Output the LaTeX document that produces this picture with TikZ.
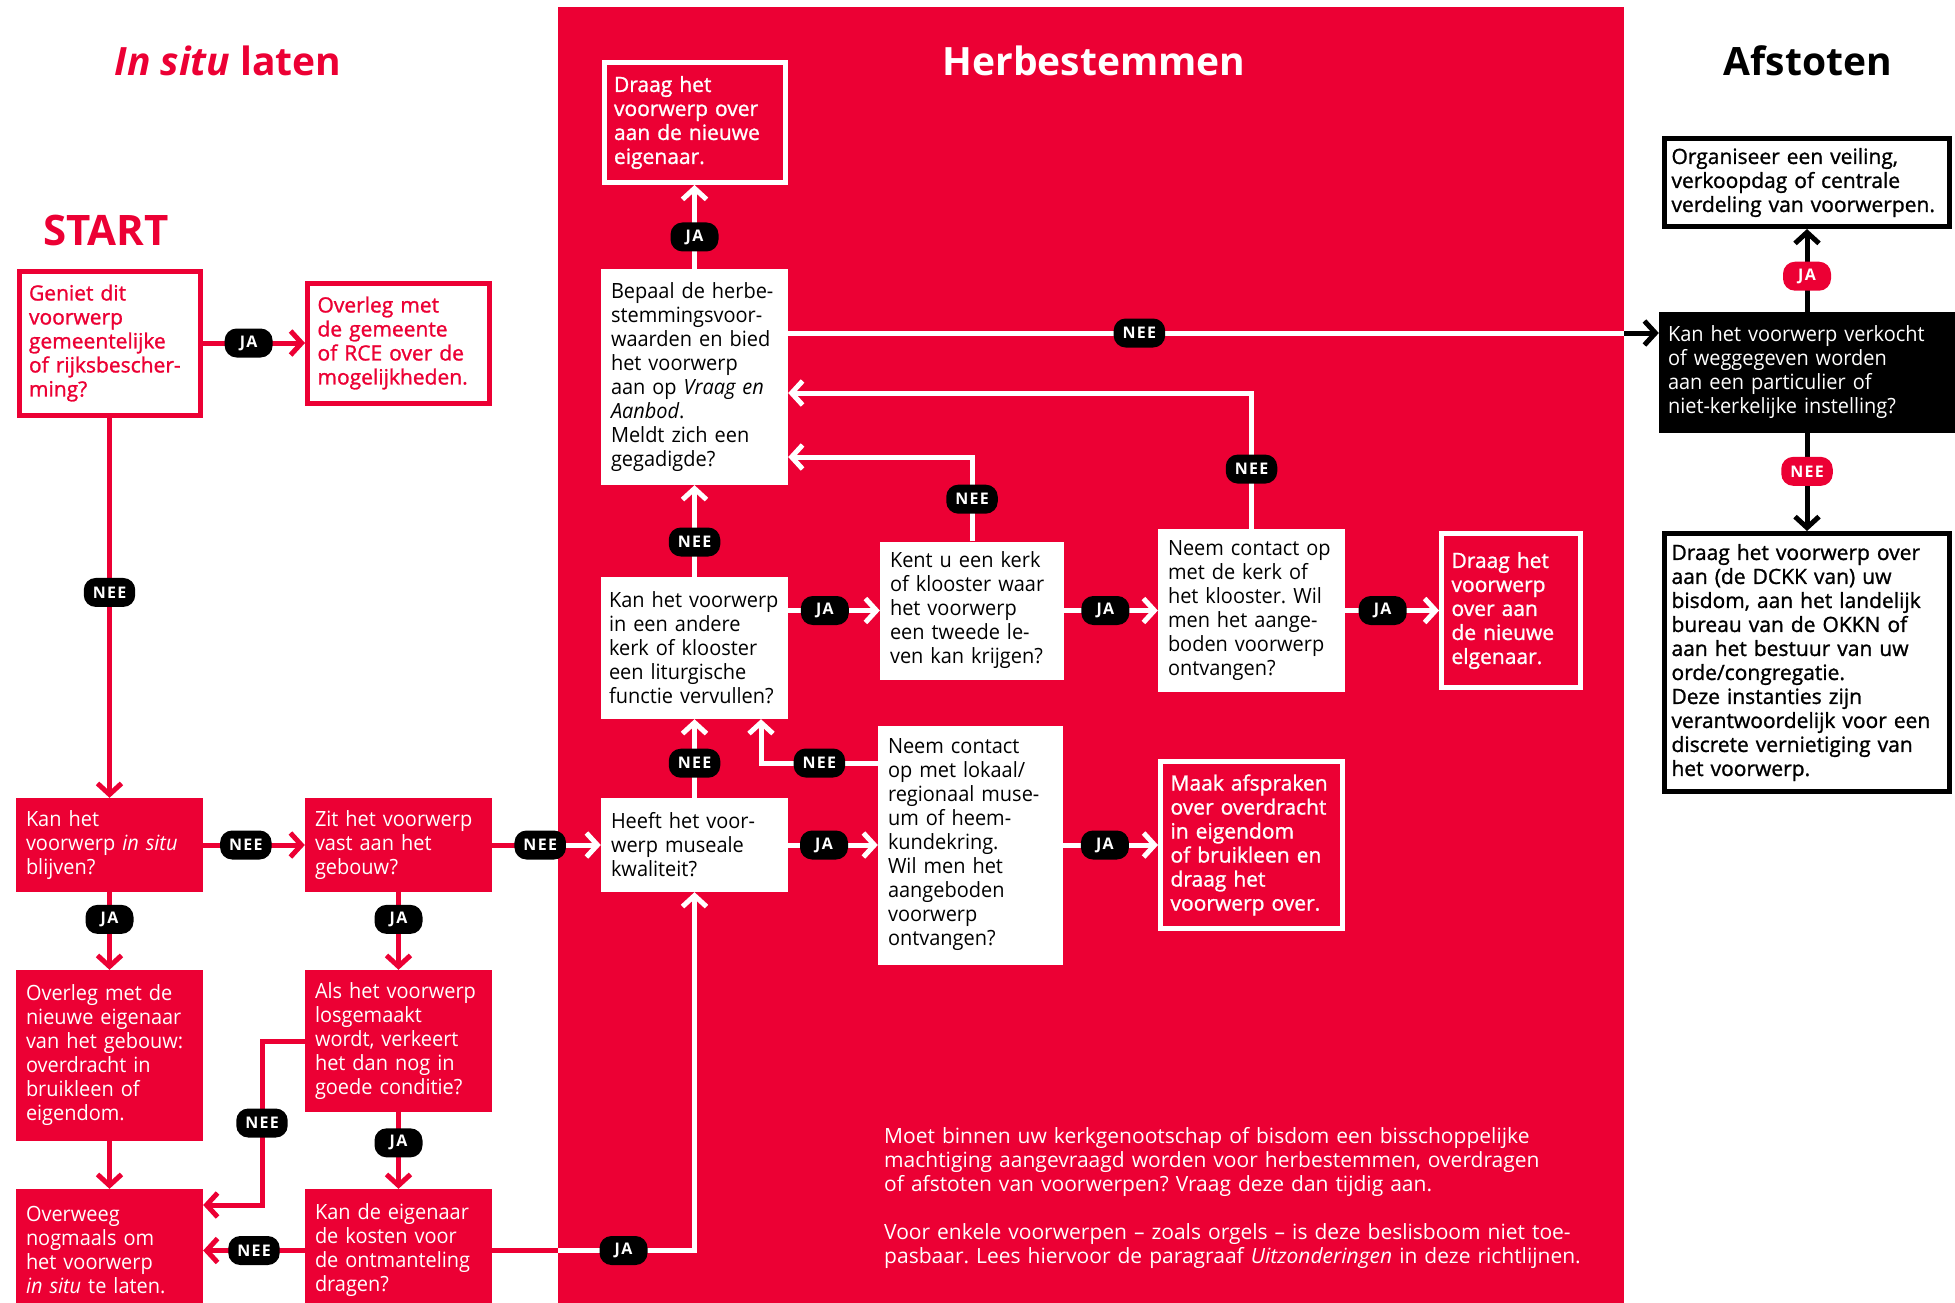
\documentclass[tikz,border=0pt]{standalone}
\usepackage{fontspec}
\setmainfont{Open Sans}
\newfontfamily\smal[FakeStretch=0.95]{Open Sans}
\newfontfamily\halfvet[FakeBold=1.2]{Open Sans}
\newfontfamily\knop[LetterSpace=8]{Open Sans}
\usetikzlibrary{arrows.meta}
\definecolor{kerkrood}{RGB}{236,0,52}
\hyphenpenalty=10000
\exhyphenpenalty=10000
\frenchspacing

\begin{document}
\begin{tikzpicture}[x=1pt, y=-1pt,
    vraag/.style={rectangle, inner xsep=10pt, inner ysep=4pt, align=left, font=\smal\fontsize{21}{24}\selectfont},
    rood/.style={vraag, fill=kerkrood, text=white},
    wit/.style={vraag, fill=white, text=black},
    kader/.style={vraag, inner xsep=10pt, line width=5pt, font=\halfvet\fontsize{21}{24}\selectfont},
    lijn/.style={line width=5pt, -{Straight Barb[length=11pt, width=24pt]}},
    keuze/.style={fill=black, text=white, rounded corners=12pt, minimum width=48pt, minimum height=29pt, inner xsep=9pt, inner ysep=0pt, font=\knop\bfseries\fontsize{16}{16}\selectfont},
    kop/.style={font=\bfseries\fontsize{39}{44}\selectfont}]
          \useasboundingbox (0,0) rectangle (1955,1302);
          \node[fill=kerkrood, inner sep=0pt, minimum width=1066pt, minimum height=1300pt, anchor=north west] (h) at (558,7) {};

          \node[kop, text=kerkrood] (t1) at (228,61) {\textit{In situ} laten};
          \node[kop, text=white] (t2) at (1094,61) {Herbestemmen};
          \node[kop, text=black] (t3) at (1808,61) {Afstoten};
          \node[kop, text=kerkrood, font=\bfseries\fontsize{42}{44}\selectfont] (t0) at (106,230) {START};

          \node[kader, draw=kerkrood, fill=white, text=kerkrood, text width=161pt, minimum height=144pt] (1) at (109.5,343) {Geniet dit\\voorwerp\\gemeentelijke\\of rijksbescher-\\ming?};
          \node[kader, draw=kerkrood, fill=white, text=kerkrood, text width=162pt, minimum height=120pt] (2) at (398.5,343) {Overleg met\\de gemeente\\of RCE over de\\mogelijkheden.};
          \node[rood, text width=167pt, minimum height=94pt] (3) at (109.5,845) {Kan het\\voorwerp \textit{in situ}\\blijven?};
          \node[rood, text width=167pt, minimum height=94pt] (4) at (398.5,845) {Zit het voorwerp\\vast aan het\\gebouw?};
          \node[rood, text width=167pt, minimum height=171pt] (5) at (109.5,1055.5) {Overleg met de\\nieuwe eigenaar\\van het gebouw:\\overdracht in\\bruikleen of\\eigendom.};
          \node[rood, text width=167pt, minimum height=142pt] (6) at (398.5,1041) {Als het voorwerp\\losgemaakt\\wordt, verkeert\\het dan nog in\\goede conditie?};
          \node[rood, text width=167pt, minimum height=123pt] (7) at (109.5,1250.5) {Overweeg\\nogmaals om\\het voorwerp\\\textit{in situ} te laten.};
          \node[rood, text width=167pt, minimum height=123pt] (8) at (398.5,1250.5) {Kan de eigenaar\\de kosten voor\\de ontmanteling\\dragen?};

          \node[wit, text width=167pt, minimum height=94pt] (9) at (694.5,845) {Heeft het voor-\\werp museale\\kwaliteit?};
          \node[wit, inner xsep=8pt, text width=171pt, minimum height=142pt] (10) at (694.5,648) {Kan het voorwerp\\in een andere\\kerk of klooster\\een liturgische\\functie vervullen?};
          \node[wit, text width=167pt, minimum height=216pt] (11) at (694.5,377) {Bepaal de herbe-\\stemmingsvoor-\\waarden en bied\\het voorwerp\\aan op \textit{Vraag en}\\\textit{Aanbod}.\\Meldt zich een\\gegadigde?};
          \node[kader, draw=white, fill=kerkrood, text=white, text width=161pt, minimum height=120pt] (12) at (694.5,122.5) {Draag het\\voorwerp over\\aan de nieuwe\\eigenaar.};
          \node[wit, text width=164pt, minimum height=138pt] (13) at (972,610.5) {Kent u een kerk\\of klooster waar\\het voorwerp\\een tweede le-\\ven kan krijgen?};
          \node[wit, text width=167pt, minimum height=163pt] (14) at (1251.5,610.5) {Neem contact op\\met de kerk of\\het klooster. Wil\\men het aange-\\boden voorwerp\\ontvangen?};
          \node[kader, draw=white, fill=kerkrood, text=white, text width=119pt, minimum height=154pt] (15) at (1511,610.5) {Draag het\\voorwerp\\over aan\\de nieuwe\\elgenaar.};
          \node[wit, text width=165pt, minimum height=239pt] (16) at (970.5,845) {Neem contact\\op met lokaal/\\regionaal muse-\\um of heem-\\kundekring.\\Wil men het\\aangeboden\\voorwerp\\ontvangen?};
          \node[kader, draw=white, fill=kerkrood, text=white, text width=162pt, minimum height=167pt] (17) at (1251.5,845) {Maak afspraken\\over overdracht\\in eigendom\\of bruikleen en\\draag het\\voorwerp over.};

          \node[vraag, fill=black, text=white, inner xsep=9pt, text width=278pt, minimum height=121pt] (18) at (1807,372.5) {Kan het voorwerp verkocht\\of weggegeven worden\\aan een particulier of\\niet-kerkelijke instelling?};
          \node[kader, draw=black, fill=white, text=black, inner xsep=7pt, text width=271pt, minimum height=88pt] (19) at (1807,182.5) {Organiseer een veiling,\\verkoopdag of centrale\\verdeling van voorwerpen.};
          \node[kader, draw=black, fill=white, text=black, inner xsep=7pt, text width=271pt, minimum height=258pt] (20) at (1807,662.5) {Draag het voorwerp over\\aan (de DCKK van) uw\\bisdom, aan het landelijk\\bureau van de OKKN of\\aan het bestuur van uw\\orde/congregatie.\\Deze instanties zijn\\verantwoordelijk voor een\\discrete vernietiging van\\het voorwerp.};

          \node[anchor=north west, inner sep=0pt, text width=760pt, align=left, text=white, font=\fontsize{21}{24}\selectfont] (noot) at (884,1127) {Moet binnen uw kerkgenootschap of bisdom een bisschoppelijke\\machtiging aangevraagd worden voor herbestemmen, overdragen\\of afstoten van voorwerpen? Vraag deze dan tijdig aan.\\[24pt]Voor enkele voorwerpen -- zoals orgels -- is deze beslisboom niet toe-\\pasbaar. Lees hiervoor de paragraaf \textit{Uitzonderingen} in deze richtlijnen.};

          \coordinate (a) at (262,1205);
          \coordinate (b) at (0,333);
          \coordinate (c) at (0,393);
          \coordinate (d) at (0,457);
          \coordinate (e) at (761,763);

          \draw[lijn, kerkrood] (1) to node[keuze, pos=0.45]{JA} (2);
          \draw[lijn, kerkrood] (1) to node[keuze, pos=0.46]{NEE} (3);
          \draw[lijn, kerkrood] (3) to node[keuze, pos=0.42]{NEE} (4);
          \draw[lijn, kerkrood] (3) to node[keuze, pos=0.35]{JA} (5);
          \draw[lijn, kerkrood] (5) to (7);
          \draw[lijn, kerkrood] (4) to node[keuze, pos=0.35]{JA} (6);
          \draw[lijn, kerkrood] (6) to node[keuze, pos=0.4]{JA} (8);
          \draw[lijn, kerkrood] (6.west) -| node[keuze, pos=0.75]{NEE} (a) -- (7.east |- a);
          \draw[lijn, kerkrood] (8) to node[keuze, midway]{NEE} (7);

          \draw[lijn, white] (h.west |- 4) -- (9);
          \draw[lijn, kerkrood, -] (4) -- node[keuze, pos=0.73]{NEE} (h.west |- 4);
          \draw[lijn, white] (h.west |- 8) -| node[keuze, pos=0.24]{JA} (9);
          \draw[lijn, kerkrood, -] (8) -- (h.west |- 8);

          \draw[lijn, white] (9) to node[keuze, pos=0.44]{NEE} (10);
          \draw[lijn, white] (10) to node[keuze, pos=0.38]{NEE} (11);
          \draw[lijn, white] (11) to node[keuze, pos=0.38]{JA} (12);
          \draw[lijn, white] (10.east |- 13) to node[keuze, pos=0.4]{JA} (13);
          \draw[lijn, white] (13) to node[keuze, pos=0.44]{JA} (14);
          \draw[lijn, white] (14) to node[keuze, pos=0.4]{JA} (15);
          \draw[lijn, white] (9) to node[keuze, pos=0.4]{JA} (16);
          \draw[lijn, white] (16) to node[keuze, pos=0.44]{JA} (17);
          \draw[lijn, white] (14.north) |- node[keuze, pos=0.22]{NEE} (11.east |- c);
          \draw[lijn, white] (13.north) |- node[keuze, pos=0.25]{NEE} (11.east |- d);
          \draw[lijn, white] (16.west |- e) -- node[keuze, midway]{NEE} (e) -- (e |- 10.south);

          \draw[lijn, black] (11.east |- b) -- (18.west |- b);
          \draw[lijn, white, -] (11.east |- b) -- node[keuze, pos=0.42]{NEE} (h.east |- b);
          \draw[lijn, black] (18) to node[keuze, fill=kerkrood, pos=0.43]{JA} (19);
          \draw[lijn, black] (18) to node[keuze, fill=kerkrood, pos=0.39]{NEE} (20);
        \end{tikzpicture}
\end{document}
